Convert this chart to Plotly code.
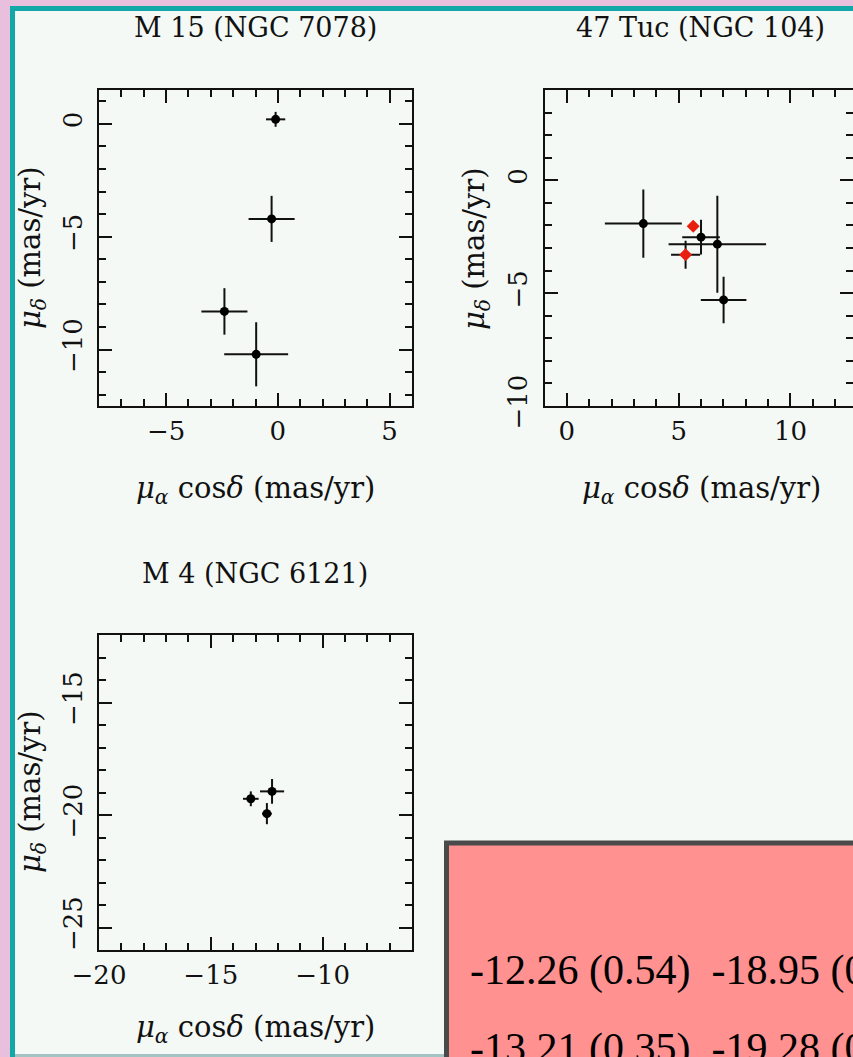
import plotly.graph_objects as go

# ---------------- data ----------------
m15_pmra = [-0.10, -0.28, -2.39, -0.97]
m15_pmdec = [0.20, -4.21, -8.31, -10.21]
m15_err_ra = [0.43, 1.03, 1.03, 1.43]
m15_err_dec = [0.33, 1.02, 1.03, 1.42]

tuc_pmra = [3.42, 6.00, 6.73, 7.01]
tuc_pmdec = [-1.92, -2.52, -2.83, -5.30]
tuc_err_ra = [1.72, 0.84, 2.18, 1.02]
tuc_err_dec = [1.51, 0.77, 2.15, 1.03]

tuc_red_pmra = [5.65, 5.31]
tuc_red_pmdec = [-2.04, -3.30]
tuc_red_err_ra = [0.0, 0.65]
tuc_red_err_dec = [0.0, 0.62]

m4_pmra = [-12.26, -13.21, -12.49]
m4_pmdec = [-18.95, -19.28, -19.94]
m4_err_ra = [0.54, 0.35, 0.22]
m4_err_dec = [0.55, 0.33, 0.47]

titles = ["M 15 (NGC 7078)", "47 Tuc (NGC 104)", "M 4 (NGC 6121)"]
xlabel = "<i>μ</i><sub><i>α</i></sub> cos<i>δ</i> (mas/yr)"
ylabel = "<i>μ</i><sub><i>δ</i></sub> (mas/yr)"
table_rows = ["-12.26 (0.54)\u00a0\u00a0-18.95 (0.55)",
              "-13.21 (0.35)\u00a0\u00a0-19.28 (0.33)"]

# ---------------- layout helpers ----------------
W, H = 853, 1057
BG = "#f4f9f6"
INK = "#111111"
SERIF = "DejaVu Serif"


def px(x):
    return x / W


def py(y):
    return 1 - y / H


def axis(dom, rng, anchor, angle=None, standoff=2):
    d = dict(domain=dom, range=rng, anchor=anchor, dtick=5, tick0=0, ticks="inside",
             ticklen=13, tickwidth=2, tickcolor=INK, showline=True, linewidth=2,
             linecolor=INK, mirror="allticks", showgrid=False, zeroline=False,
             fixedrange=True, automargin=False,
             minor=dict(ticks="inside", ticklen=7, tickwidth=2, dtick=1, tick0=0,
                        tickcolor=INK, showgrid=False),
             tickfont=dict(family=SERIF, size=26, color=INK), ticklabelstandoff=standoff)
    if angle is not None:
        d["tickangle"] = angle
    return d


fig = go.Figure()


def add_pts(x, y, ex, ey, xa, ya, color, symbol, size):
    fig.add_trace(go.Scatter(
        x=x, y=y, mode="markers", xaxis=xa, yaxis=ya, showlegend=False,
        marker=dict(color=color, size=size, symbol=symbol, line=dict(width=0)),
        error_x=dict(type="data", array=ex, thickness=2, width=0, color=INK),
        error_y=dict(type="data", array=ey, thickness=2, width=0, color=INK)))


add_pts(m15_pmra, m15_pmdec, m15_err_ra, m15_err_dec, "x", "y", "#000000", "circle", 9)
add_pts(tuc_pmra, tuc_pmdec, tuc_err_ra, tuc_err_dec, "x2", "y2", "#000000", "circle", 9)
add_pts(tuc_red_pmra, tuc_red_pmdec, tuc_red_err_ra, tuc_red_err_dec, "x2", "y2", "#e81e0e", "diamond", 10)
add_pts(m4_pmra, m4_pmdec, m4_err_ra, m4_err_dec, "x3", "y3", "#000000", "circle", 9)

scale = 22.36
p2_left = 544.5
p2_right_val = -1 + (W - p2_left) / scale

fig.update_layout(
    width=W, height=H, margin=dict(l=0, r=0, t=0, b=0, autoexpand=False),
    paper_bgcolor=BG, plot_bgcolor="rgba(0,0,0,0)",
    xaxis=axis([px(99), px(412)], [-8, 6], "y", standoff=1),
    yaxis=axis([py(406), py(90)], [-12.5, 1.5], "x", -90, standoff=5),
    xaxis2=axis([px(p2_left), 1.0], [-1, p2_right_val], "y2", standoff=1),
    yaxis2=axis([py(406), py(90)], [-10, 4], "x2", -90, standoff=5),
    xaxis3=axis([px(99), px(412)], [-20, -6], "y3", standoff=1),
    yaxis3=axis([py(950), py(635)], [-26, -12], "x3", -90, standoff=5),
)

shapes = [
    # pink slide frame
    dict(type="rect", xref="paper", yref="paper", x0=0, x1=px(10), y0=0, y1=1,
         fillcolor="#e8c0de", line=dict(width=0), layer="below"),
    dict(type="rect", xref="paper", yref="paper", x0=0, x1=1, y0=py(6), y1=1,
         fillcolor="#e8c0de", line=dict(width=0), layer="below"),
    # teal border
    dict(type="rect", xref="paper", yref="paper", x0=px(10), x1=px(15), y0=0, y1=py(6),
         fillcolor="#13a8a8", line=dict(width=0), layer="below"),
    dict(type="rect", xref="paper", yref="paper", x0=px(10), x1=1, y0=py(11), y1=py(6),
         fillcolor="#13a8a8", line=dict(width=0), layer="below"),
    # bottom light line
    dict(type="rect", xref="paper", yref="paper", x0=px(15), x1=px(446), y0=0, y1=py(1054),
         fillcolor="#a3c4c2", line=dict(width=0), layer="below"),
    # pink table box
    dict(type="rect", xref="paper", yref="paper", x0=px(446.5), x1=px(900), y0=py(1100),
         y1=py(843), fillcolor="#ff9191", line=dict(width=5, color="#4a4a4a"), layer="below"),
]
fig.update_layout(shapes=shapes)

ann = []
title_pos = [(255.5, 27), (700.5, 27), (255.5, 573)]
for t, (cx, cy) in zip(titles, title_pos):
    ann.append(dict(text=t, x=px(cx), y=py(cy), xref="paper", yref="paper",
                    xanchor="center", yanchor="middle", showarrow=False,
                    font=dict(family=SERIF, size=27, color=INK)))
for cx, cy in [(256, 490), (701, 490), (256, 1029)]:
    ann.append(dict(text=xlabel, x=px(cx), y=py(cy), xref="paper", yref="paper",
                    xanchor="center", yanchor="middle", showarrow=False,
                    font=dict(family=SERIF, size=29, color=INK)))
for cx, cy in [(32, 248), (476, 248), (32, 792)]:
    ann.append(dict(text=ylabel, x=px(cx), y=py(cy), xref="paper", yref="paper",
                    xanchor="center", yanchor="middle", showarrow=False, textangle=-90,
                    font=dict(family=SERIF, size=29, color=INK)))
for row, cy in zip(table_rows, [970, 1048]):
    ann.append(dict(text=row, x=px(468), y=py(cy), xref="paper", yref="paper",
                    xanchor="left", yanchor="middle", showarrow=False,
                    font=dict(family="Liberation Serif", size=42, color="#000000")))
fig.update_layout(annotations=ann)

fig.write_html("out.html")
